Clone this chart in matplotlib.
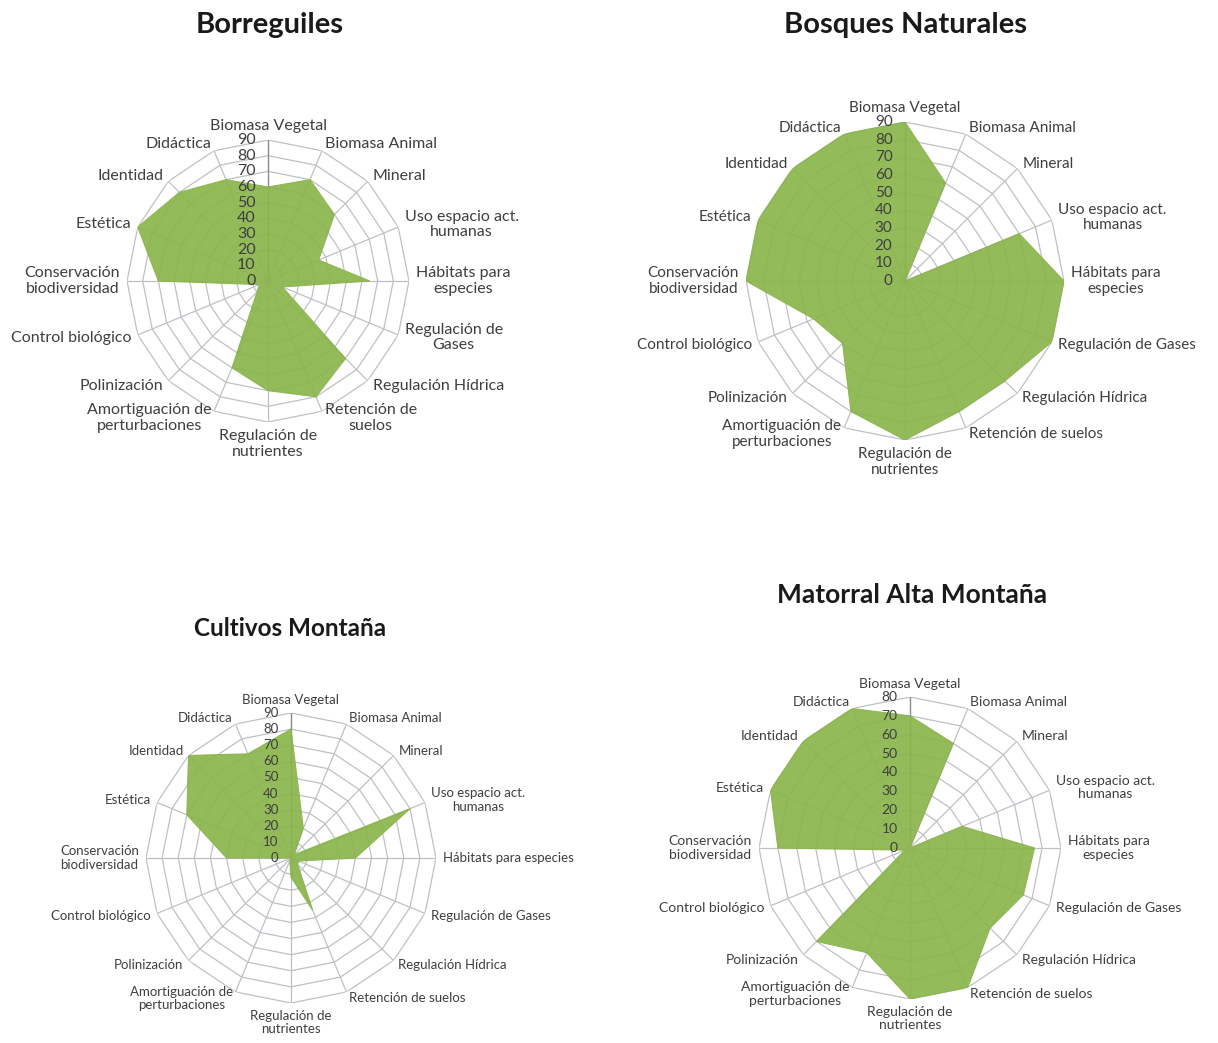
import numpy as np
import matplotlib
matplotlib.use("Agg")
import matplotlib.pyplot as plt

plt.rcParams['font.family'] = ['Lato', 'DejaVu Sans']

# service categories (clockwise from the top)
categories = ["Biomasa Vegetal", "Biomasa Animal", "Mineral", "Uso espacio act. humanas",
              "Hábitats para especies", "Regulación de Gases", "Regulación Hídrica",
              "Retención de suelos", "Regulación de nutrientes", "Amortiguación de perturbaciones",
              "Polinización", "Control biológico", "Conservación biodiversidad",
              "Estética", "Identidad", "Didáctica"]

# label text as it is wrapped in each chart
labels_borreguiles = ["Biomasa Vegetal", "Biomasa Animal", "Mineral", "Uso espacio act.\nhumanas",
                      "Hábitats para\nespecies", "Regulación de\nGases", "Regulación Hídrica",
                      "Retención de\nsuelos", "Regulación de\nnutrientes", "Amortiguación de\nperturbaciones",
                      "Polinización", "Control biológico", "Conservación\nbiodiversidad",
                      "Estética", "Identidad", "Didáctica"]
labels_bosques = ["Biomasa Vegetal", "Biomasa Animal", "Mineral", "Uso espacio act.\nhumanas",
                  "Hábitats para\nespecies", "Regulación de Gases", "Regulación Hídrica",
                  "Retención de suelos", "Regulación de\nnutrientes", "Amortiguación de\nperturbaciones",
                  "Polinización", "Control biológico", "Conservación\nbiodiversidad",
                  "Estética", "Identidad", "Didáctica"]
labels_cultivos = ["Biomasa Vegetal", "Biomasa Animal", "Mineral", "Uso espacio act.\nhumanas",
                   "Hábitats para especies", "Regulación de Gases", "Regulación Hídrica",
                   "Retención de suelos", "Regulación de\nnutrientes", "Amortiguación de\nperturbaciones",
                   "Polinización", "Control biológico", "Conservación\nbiodiversidad",
                   "Estética", "Identidad", "Didáctica"]
labels_matorral = labels_bosques[:4] + ["Hábitats para\nespecies"] + labels_bosques[5:]

# values
borreguiles = [60, 70, 60, 35, 65, 10, 70, 80, 70, 60, 10, 6, 70, 90, 80, 70]
bosques = [90, 60, 0, 70, 90, 90, 80, 80, 90, 80, 50, 56, 90, 90, 90, 90]
cultivos = [80, 20, 3, 80, 40, 5, 6, 35, 12, 2, 0, 0, 40, 70, 90, 70]
matorral = [70, 60, 0, 30, 66, 65, 60, 80, 80, 60, 70, 3, 70, 80, 80, 80]

titles = ["Borreguiles", "Bosques Naturales", "Cultivos Montaña", "Matorral Alta Montaña"]

W, H = 1218, 1043
fig = plt.figure(figsize=(W / 100, H / 100), dpi=100)

GREEN = '#8bb54c'
GRID = '#bfc0c6'
TXT = '#3f3f3f'


def radar(cx, cy, rad, values, labels, rmax, step, fs, title, tx, ty, tfs):
    ax = fig.add_axes([(cx - rad) / W, 1 - (cy + rad) / H, 2 * rad / W, 2 * rad / H],
                      projection='polar')
    n = len(values)
    theta = np.linspace(0, 2 * np.pi, n, endpoint=False)
    tclosed = np.append(theta, theta[0])
    ax.set_theta_zero_location('N')
    ax.set_theta_direction(-1)
    ax.set_ylim(0, rmax)
    ax.grid(False)
    ax.spines['polar'].set_visible(False)
    ax.set_xticks([])
    ax.set_yticks([])
    ax.patch.set_alpha(0)

    levels = np.arange(step, rmax + 1, step)
    for lv in levels:
        ax.plot(tclosed, np.full(n + 1, lv), color=GRID, lw=0.9, zorder=1)
    for t in theta:
        ax.plot([t, t], [0, rmax], color=GRID, lw=0.9, zorder=1)
    ax.plot([0, 0], [0, rmax], color='#8a8a8a', lw=0.9, zorder=1)

    vals = np.append(values, values[0])
    ax.fill(tclosed, vals, color=GREEN, alpha=0.92, lw=0.8, zorder=2)

    # value axis labels
    for lv in np.append(0, levels):
        ax.annotate(str(int(lv)), xy=(0, lv), xytext=(-9, 0), textcoords='offset points',
                    ha='right', va='center', fontsize=fs, color=TXT, zorder=3)

    # category labels
    for t, lab in zip(theta, labels):
        s, c = np.sin(t), np.cos(t)
        ha = 'left' if s > 0.2 else ('right' if s < -0.2 else 'center')
        va = 'bottom' if c > 0.95 else ('top' if c < -0.95 else 'center')
        ax.annotate(lab, xy=(t, rmax), xytext=(5 * s, 5 * c), textcoords='offset points',
                    ha=ha, va=va, multialignment='center', fontsize=fs, color=TXT,
                    annotation_clip=False, linespacing=1.15)

    fig.text(tx / W, 1 - ty / H, title, ha='center', va='center', fontsize=tfs,
             fontweight='bold', color='#1a1a1a')


radar(268, 281, 141, borreguiles, labels_borreguiles, 90, 10, 11.5, titles[0], 270, 25, 21)
radar(905, 281, 159, bosques, labels_bosques, 90, 10, 11, titles[1], 905, 25, 21)
radar(291, 858, 145, cultivos, labels_cultivos, 90, 10, 9.5, titles[2], 290, 628, 17.5)
radar(910, 848, 151, matorral, labels_matorral, 80, 10, 10, titles[3], 912, 595, 19)

fig.savefig("out.png", dpi=100, facecolor='white')
